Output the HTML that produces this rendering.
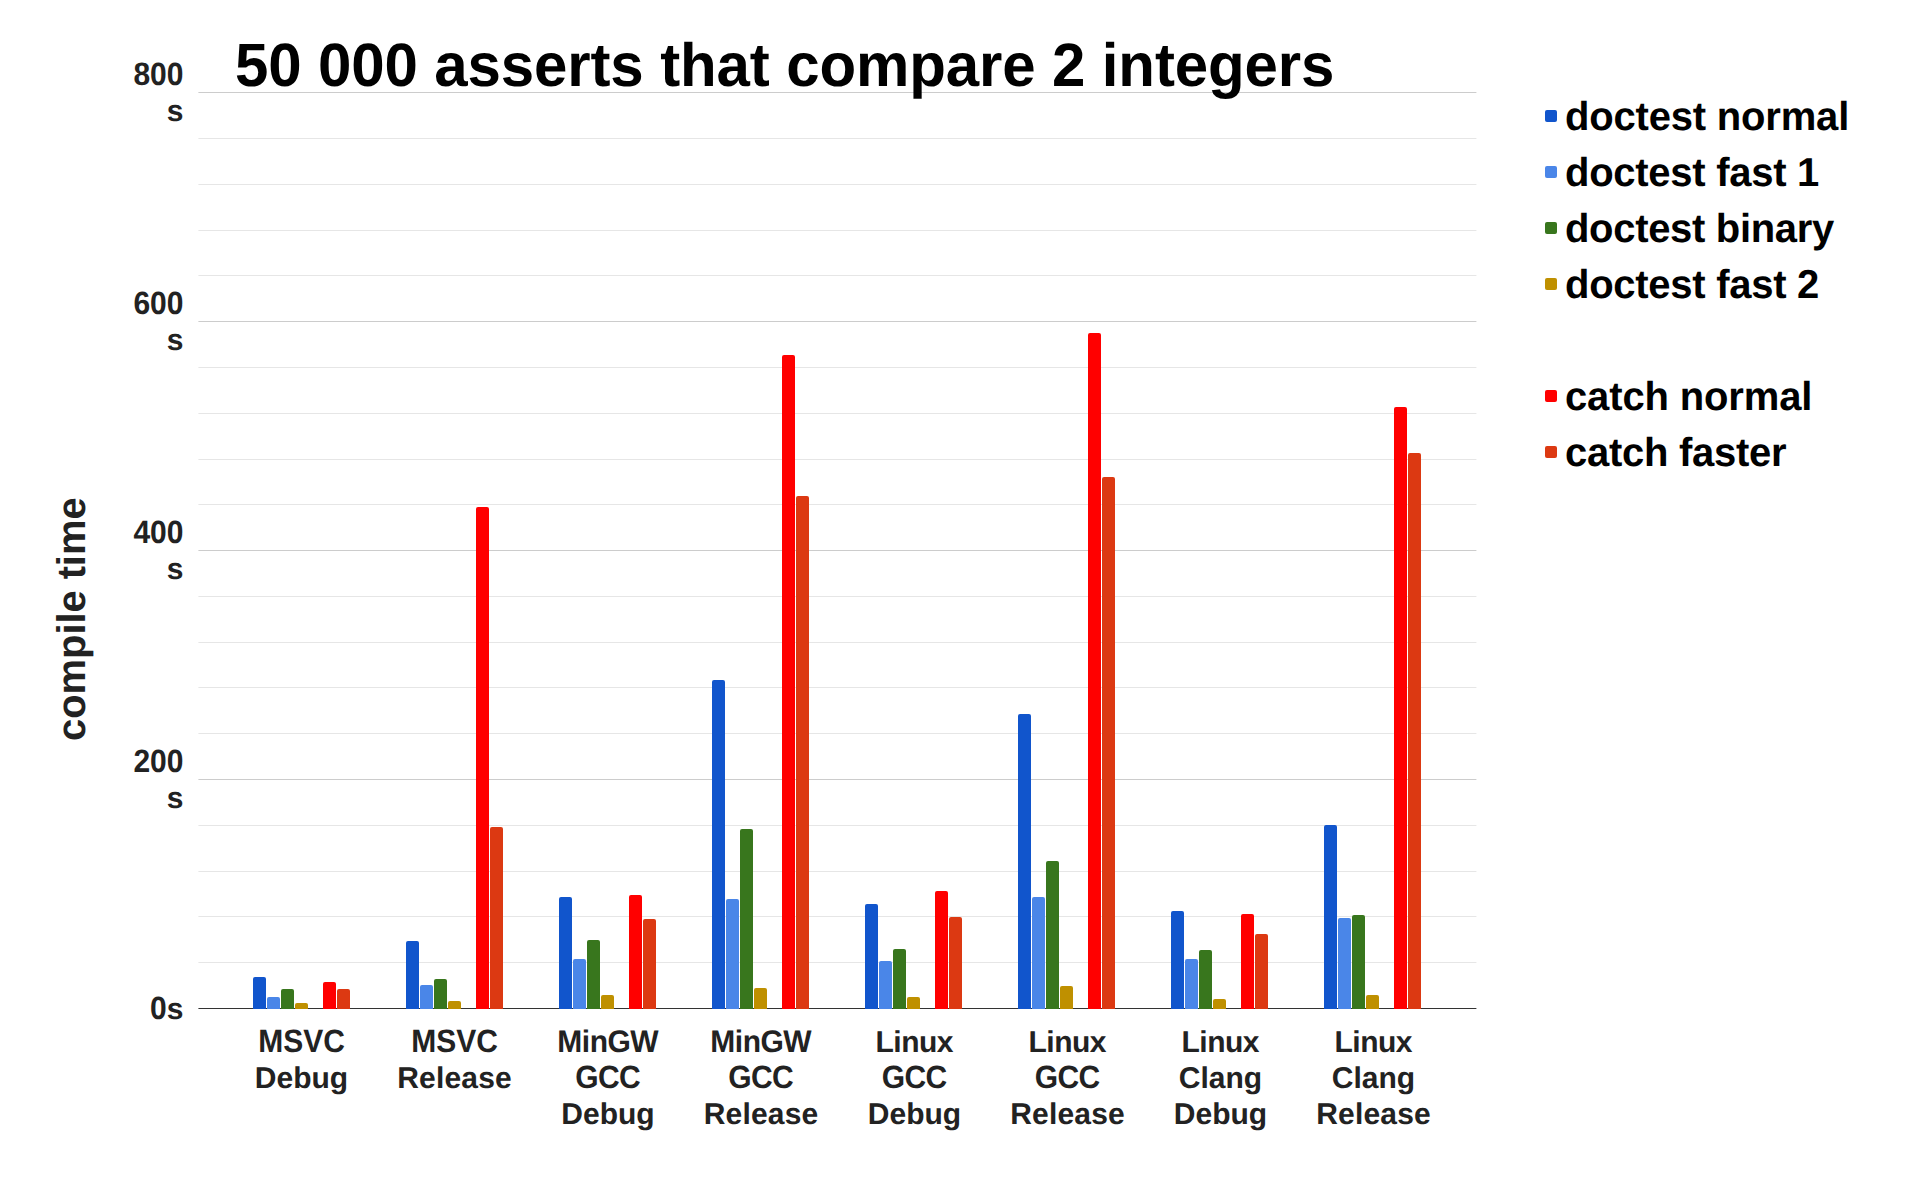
<!DOCTYPE html>
<html lang="en">
<head>
<meta charset="utf-8">
<title>50 000 asserts that compare 2 integers</title>
<style>
html,body{margin:0;padding:0;background:#ffffff;}
body{width:1920px;height:1200px;overflow:hidden;}
svg{display:block;}
text{font-family:"Liberation Sans",Arial,Helvetica,sans-serif;font-weight:bold;text-rendering:geometricPrecision;}
.t{font-size:60px;fill:#000000;}
.a{font-size:30px;fill:#222222;}
.l{font-size:40px;fill:#000000;}
.y{font-size:40px;fill:#222222;}
</style>
</head>
<body>
<svg width="1920" height="1200" viewBox="0 0 1920 1200">
<rect x="0" y="0" width="1920" height="1200" fill="#ffffff"/>

<g>
<rect x="198.4" y="962" width="1278" height="1" fill="#e6e6e6"/>
<rect x="198.4" y="916" width="1278" height="1" fill="#e6e6e6"/>
<rect x="198.4" y="871" width="1278" height="1" fill="#e6e6e6"/>
<rect x="198.4" y="825" width="1278" height="1" fill="#e6e6e6"/>
<rect x="198.4" y="779" width="1278" height="1" fill="#cccccc"/>
<rect x="198.4" y="733" width="1278" height="1" fill="#e6e6e6"/>
<rect x="198.4" y="687" width="1278" height="1" fill="#e6e6e6"/>
<rect x="198.4" y="642" width="1278" height="1" fill="#e6e6e6"/>
<rect x="198.4" y="596" width="1278" height="1" fill="#e6e6e6"/>
<rect x="198.4" y="550" width="1278" height="1" fill="#cccccc"/>
<rect x="198.4" y="504" width="1278" height="1" fill="#e6e6e6"/>
<rect x="198.4" y="459" width="1278" height="1" fill="#e6e6e6"/>
<rect x="198.4" y="413" width="1278" height="1" fill="#e6e6e6"/>
<rect x="198.4" y="367" width="1278" height="1" fill="#e6e6e6"/>
<rect x="198.4" y="321" width="1278" height="1" fill="#cccccc"/>
<rect x="198.4" y="275" width="1278" height="1" fill="#e6e6e6"/>
<rect x="198.4" y="230" width="1278" height="1" fill="#e6e6e6"/>
<rect x="198.4" y="184" width="1278" height="1" fill="#e6e6e6"/>
<rect x="198.4" y="138" width="1278" height="1" fill="#e6e6e6"/>
<rect x="198.4" y="92" width="1278" height="1" fill="#cccccc"/>
</g>
<rect x="198.4" y="1008" width="1278" height="1" fill="#333333"/>
<path d="M253 1009V979Q253 977 255 977H264Q266 977 266 979V1009Z" fill="#1155cc"/>
<path d="M267 1009V999Q267 997 269 997H278Q280 997 280 999V1009Z" fill="#4a86e8"/>
<path d="M281 1009V991Q281 989 283 989H292Q294 989 294 991V1009Z" fill="#38761d"/>
<path d="M295 1009V1005Q295 1003 297 1003H306Q308 1003 308 1005V1009Z" fill="#bf9000"/>
<path d="M323 1009V984Q323 982 325 982H334Q336 982 336 984V1009Z" fill="#ff0000"/>
<path d="M337 1009V991Q337 989 339 989H348Q350 989 350 991V1009Z" fill="#dc3912"/>
<path d="M406 1009V943Q406 941 408 941H417Q419 941 419 943V1009Z" fill="#1155cc"/>
<path d="M420 1009V987Q420 985 422 985H431Q433 985 433 987V1009Z" fill="#4a86e8"/>
<path d="M434 1009V981Q434 979 436 979H445Q447 979 447 981V1009Z" fill="#38761d"/>
<path d="M448 1009V1003Q448 1001 450 1001H459Q461 1001 461 1003V1009Z" fill="#bf9000"/>
<path d="M476 1009V509Q476 507 478 507H487Q489 507 489 509V1009Z" fill="#ff0000"/>
<path d="M490 1009V829Q490 827 492 827H501Q503 827 503 829V1009Z" fill="#dc3912"/>
<path d="M559 1009V899Q559 897 561 897H570Q572 897 572 899V1009Z" fill="#1155cc"/>
<path d="M573 1009V961Q573 959 575 959H584Q586 959 586 961V1009Z" fill="#4a86e8"/>
<path d="M587 1009V942Q587 940 589 940H598Q600 940 600 942V1009Z" fill="#38761d"/>
<path d="M601 1009V997Q601 995 603 995H612Q614 995 614 997V1009Z" fill="#bf9000"/>
<path d="M629 1009V897Q629 895 631 895H640Q642 895 642 897V1009Z" fill="#ff0000"/>
<path d="M643 1009V921Q643 919 645 919H654Q656 919 656 921V1009Z" fill="#dc3912"/>
<path d="M712 1009V682Q712 680 714 680H723Q725 680 725 682V1009Z" fill="#1155cc"/>
<path d="M726 1009V901Q726 899 728 899H737Q739 899 739 901V1009Z" fill="#4a86e8"/>
<path d="M740 1009V831Q740 829 742 829H751Q753 829 753 831V1009Z" fill="#38761d"/>
<path d="M754 1009V990Q754 988 756 988H765Q767 988 767 990V1009Z" fill="#bf9000"/>
<path d="M782 1009V357Q782 355 784 355H793Q795 355 795 357V1009Z" fill="#ff0000"/>
<path d="M796 1009V498Q796 496 798 496H807Q809 496 809 498V1009Z" fill="#dc3912"/>
<path d="M865 1009V906Q865 904 867 904H876Q878 904 878 906V1009Z" fill="#1155cc"/>
<path d="M879 1009V963Q879 961 881 961H890Q892 961 892 963V1009Z" fill="#4a86e8"/>
<path d="M893 1009V951Q893 949 895 949H904Q906 949 906 951V1009Z" fill="#38761d"/>
<path d="M907 1009V999Q907 997 909 997H918Q920 997 920 999V1009Z" fill="#bf9000"/>
<path d="M935 1009V893Q935 891 937 891H946Q948 891 948 893V1009Z" fill="#ff0000"/>
<path d="M949 1009V919Q949 917 951 917H960Q962 917 962 919V1009Z" fill="#dc3912"/>
<path d="M1018 1009V716Q1018 714 1020 714H1029Q1031 714 1031 716V1009Z" fill="#1155cc"/>
<path d="M1032 1009V899Q1032 897 1034 897H1043Q1045 897 1045 899V1009Z" fill="#4a86e8"/>
<path d="M1046 1009V863Q1046 861 1048 861H1057Q1059 861 1059 863V1009Z" fill="#38761d"/>
<path d="M1060 1009V988Q1060 986 1062 986H1071Q1073 986 1073 988V1009Z" fill="#bf9000"/>
<path d="M1088 1009V335Q1088 333 1090 333H1099Q1101 333 1101 335V1009Z" fill="#ff0000"/>
<path d="M1102 1009V479Q1102 477 1104 477H1113Q1115 477 1115 479V1009Z" fill="#dc3912"/>
<path d="M1171 1009V913Q1171 911 1173 911H1182Q1184 911 1184 913V1009Z" fill="#1155cc"/>
<path d="M1185 1009V961Q1185 959 1187 959H1196Q1198 959 1198 961V1009Z" fill="#4a86e8"/>
<path d="M1199 1009V952Q1199 950 1201 950H1210Q1212 950 1212 952V1009Z" fill="#38761d"/>
<path d="M1213 1009V1001Q1213 999 1215 999H1224Q1226 999 1226 1001V1009Z" fill="#bf9000"/>
<path d="M1241 1009V916Q1241 914 1243 914H1252Q1254 914 1254 916V1009Z" fill="#ff0000"/>
<path d="M1255 1009V936Q1255 934 1257 934H1266Q1268 934 1268 936V1009Z" fill="#dc3912"/>
<path d="M1324 1009V827Q1324 825 1326 825H1335Q1337 825 1337 827V1009Z" fill="#1155cc"/>
<path d="M1338 1009V920Q1338 918 1340 918H1349Q1351 918 1351 920V1009Z" fill="#4a86e8"/>
<path d="M1352 1009V917Q1352 915 1354 915H1363Q1365 915 1365 917V1009Z" fill="#38761d"/>
<path d="M1366 1009V997Q1366 995 1368 995H1377Q1379 995 1379 997V1009Z" fill="#bf9000"/>
<path d="M1394 1009V409Q1394 407 1396 407H1405Q1407 407 1407 409V1009Z" fill="#ff0000"/>
<path d="M1408 1009V455Q1408 453 1410 453H1419Q1421 453 1421 455V1009Z" fill="#dc3912"/>
<text class="t" transform="translate(234.9 85.5) scale(1 1.02)" textLength="1099.5" lengthAdjust="spacing">50 000 asserts that compare 2 integers</text>
<text class="a" text-anchor="end" transform="translate(183.5 85.0) scale(1 1.075)">800</text>
<text class="a" text-anchor="end" x="183.5" y="121">s</text>
<text class="a" text-anchor="end" transform="translate(183.5 314.0) scale(1 1.075)">600</text>
<text class="a" text-anchor="end" x="183.5" y="350">s</text>
<text class="a" text-anchor="end" transform="translate(183.5 543.0) scale(1 1.075)">400</text>
<text class="a" text-anchor="end" x="183.5" y="579">s</text>
<text class="a" text-anchor="end" transform="translate(183.5 772.0) scale(1 1.075)">200</text>
<text class="a" text-anchor="end" x="183.5" y="808">s</text>
<text class="a" text-anchor="end" transform="translate(166.8 1019) scale(1 1.075)">0</text>
<text class="a" text-anchor="end" x="183.5" y="1019">s</text>
<text class="a" transform="translate(258.15 1052) scale(1 1.075)" textLength="86.69" lengthAdjust="spacing">MSVC</text>
<text class="a" transform="translate(254.84 1088) scale(1 1)" textLength="93.33" lengthAdjust="spacing">Debug</text>
<text class="a" transform="translate(411.15 1052) scale(1 1.075)" textLength="86.69" lengthAdjust="spacing">MSVC</text>
<text class="a" transform="translate(397.28 1088) scale(1 1)" textLength="114.44" lengthAdjust="spacing">Release</text>
<text class="a" transform="translate(557.35 1052) scale(1 1.04)" textLength="101.31" lengthAdjust="spacing">MinGW</text>
<text class="a" transform="translate(575.26 1088) scale(1 1.075)" textLength="65.47" lengthAdjust="spacing">GCC</text>
<text class="a" transform="translate(561.34 1124) scale(1 1)" textLength="93.33" lengthAdjust="spacing">Debug</text>
<text class="a" transform="translate(710.35 1052) scale(1 1.04)" textLength="101.31" lengthAdjust="spacing">MinGW</text>
<text class="a" transform="translate(728.26 1088) scale(1 1.075)" textLength="65.47" lengthAdjust="spacing">GCC</text>
<text class="a" transform="translate(703.78 1124) scale(1 1)" textLength="114.44" lengthAdjust="spacing">Release</text>
<text class="a" transform="translate(875.50 1052) scale(1 1)" textLength="78.00" lengthAdjust="spacing">Linux</text>
<text class="a" transform="translate(881.76 1088) scale(1 1.075)" textLength="65.47" lengthAdjust="spacing">GCC</text>
<text class="a" transform="translate(867.84 1124) scale(1 1)" textLength="93.33" lengthAdjust="spacing">Debug</text>
<text class="a" transform="translate(1028.50 1052) scale(1 1)" textLength="78.00" lengthAdjust="spacing">Linux</text>
<text class="a" transform="translate(1034.77 1088) scale(1 1.075)" textLength="65.47" lengthAdjust="spacing">GCC</text>
<text class="a" transform="translate(1010.28 1124) scale(1 1)" textLength="114.44" lengthAdjust="spacing">Release</text>
<text class="a" transform="translate(1181.50 1052) scale(1 1)" textLength="78.00" lengthAdjust="spacing">Linux</text>
<text class="a" transform="translate(1178.83 1088) scale(1 1)" textLength="83.34" lengthAdjust="spacing">Clang</text>
<text class="a" transform="translate(1173.84 1124) scale(1 1)" textLength="93.33" lengthAdjust="spacing">Debug</text>
<text class="a" transform="translate(1334.50 1052) scale(1 1)" textLength="78.00" lengthAdjust="spacing">Linux</text>
<text class="a" transform="translate(1331.83 1088) scale(1 1)" textLength="83.34" lengthAdjust="spacing">Clang</text>
<text class="a" transform="translate(1316.28 1124) scale(1 1)" textLength="114.44" lengthAdjust="spacing">Release</text>
<text class="y" text-anchor="middle" textLength="243.6" lengthAdjust="spacing" transform="translate(84.5 619.15) rotate(-90)">compile time</text>
<rect x="1545" y="110" width="12" height="12" rx="2" ry="2" fill="#1155cc"/>
<text class="l" transform="translate(1565 130) scale(1 1.01)" textLength="284.3" lengthAdjust="spacing">doctest normal</text>
<rect x="1545" y="166" width="12" height="12" rx="2" ry="2" fill="#4a86e8"/>
<text class="l" transform="translate(1565 186) scale(1 1.01)" textLength="254.3" lengthAdjust="spacing">doctest fast 1</text>
<rect x="1545" y="222" width="12" height="12" rx="2" ry="2" fill="#38761d"/>
<text class="l" transform="translate(1565 242) scale(1 1.01)" textLength="269.2" lengthAdjust="spacing">doctest binary</text>
<rect x="1545" y="278" width="12" height="12" rx="2" ry="2" fill="#bf9000"/>
<text class="l" transform="translate(1565 298) scale(1 1.01)" textLength="254.3" lengthAdjust="spacing">doctest fast 2</text>
<rect x="1545" y="390" width="12" height="12" rx="2" ry="2" fill="#ff0000"/>
<text class="l" transform="translate(1565 410) scale(1 1.01)" textLength="247.4" lengthAdjust="spacing">catch normal</text>
<rect x="1545" y="446" width="12" height="12" rx="2" ry="2" fill="#dc3912"/>
<text class="l" transform="translate(1565 466) scale(1 1.01)" textLength="221.6" lengthAdjust="spacing">catch faster</text>
</svg>
</body>
</html>
